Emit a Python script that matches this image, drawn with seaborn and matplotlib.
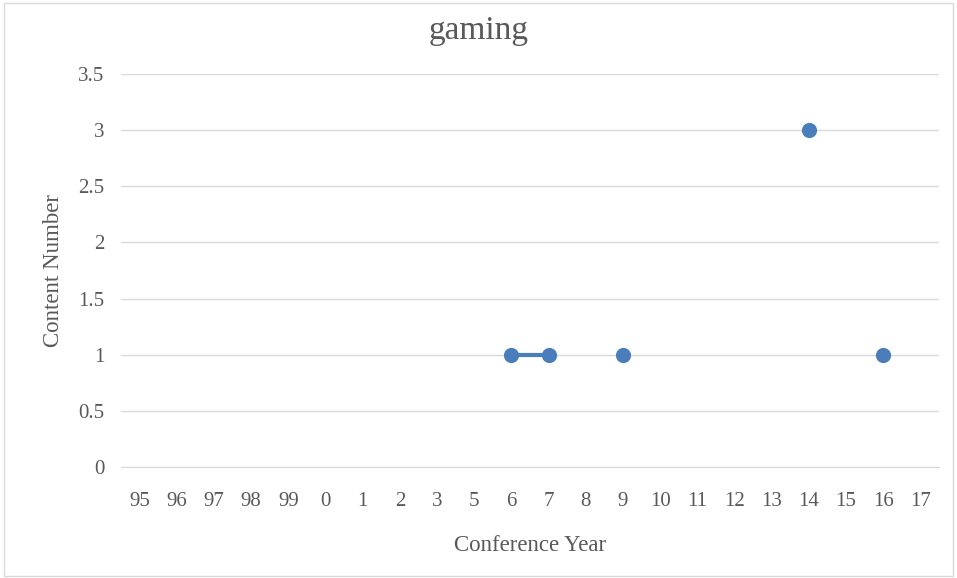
import numpy as np
import pandas as pd
import matplotlib.pyplot as plt
import seaborn as sns
from matplotlib.patches import Rectangle

# --- Data ---
years = ["95", "96", "97", "98", "99", "0", "1", "2", "3", "5", "6",
         "7", "8", "9", "10", "11", "12", "13", "14", "15", "16", "17"]
counts = [np.nan, np.nan, np.nan, np.nan, np.nan, np.nan, np.nan, np.nan,
          np.nan, np.nan, 1, 1, np.nan, 1, np.nan, np.nan, np.nan, np.nan,
          3, np.nan, 1, np.nan]
y_ticks = [0, 0.5, 1, 1.5, 2, 2.5, 3, 3.5]
y_tick_labels = ["0", "0.5", "1", "1.5", "2", "2.5", "3", "3.5"]

df = pd.DataFrame({"year": years, "count": counts})
df["pos"] = np.arange(len(df))
# contiguous runs get their own segment id so gaps stay gaps
df["segment"] = df["count"].isna().cumsum()
pts = df.dropna(subset=["count"])

blue = "#4a7ebb"
gray = "#595959"

sns.set_style("white")
plt.rcParams["font.family"] = ["Liberation Serif", "DejaVu Serif"]

fig = plt.figure(figsize=(9.57, 5.78), dpi=100)
fig.patches.append(Rectangle((0.004, 0.004), 0.992, 0.99, transform=fig.transFigure,
                             fill=False, edgecolor="#d9d9d9", linewidth=1))
ax = fig.add_axes([0.1264, 0.192, 0.8548, 0.680])

sns.lineplot(data=pts, x="pos", y="count", units="segment", estimator=None,
             color=blue, linewidth=3, ax=ax, legend=False)
sns.scatterplot(data=pts, x="pos", y="count", color=blue, s=120,
                edgecolor=blue, linewidth=0, ax=ax, zorder=3, legend=False)

ax.set_xlim(-0.5, len(years) - 0.5)
ax.set_ylim(0, 3.5)
ax.set_xticks(df["pos"])
ax.set_xticklabels(years)
ax.set_yticks(y_ticks)
ax.set_yticklabels(y_tick_labels)
ax.yaxis.grid(True, color="#d9d9d9", linewidth=1)
ax.set_axisbelow(True)
for s in ["top", "right", "left"]:
    ax.spines[s].set_visible(False)
ax.spines["bottom"].set_color("#d9d9d9")
ax.tick_params(axis="both", length=0, labelsize=15, colors=gray)
ax.tick_params(axis="x", pad=18)
ax.tick_params(axis="y", pad=12)

ax.set_xlabel("Conference Year", fontsize=16.5, color=gray, labelpad=17)
ax.set_ylabel("Content Number", fontsize=16.5, color=gray, labelpad=10)
fig.suptitle("gaming", fontsize=24, color=gray, y=0.973)

fig.savefig("out.png", dpi=100)
